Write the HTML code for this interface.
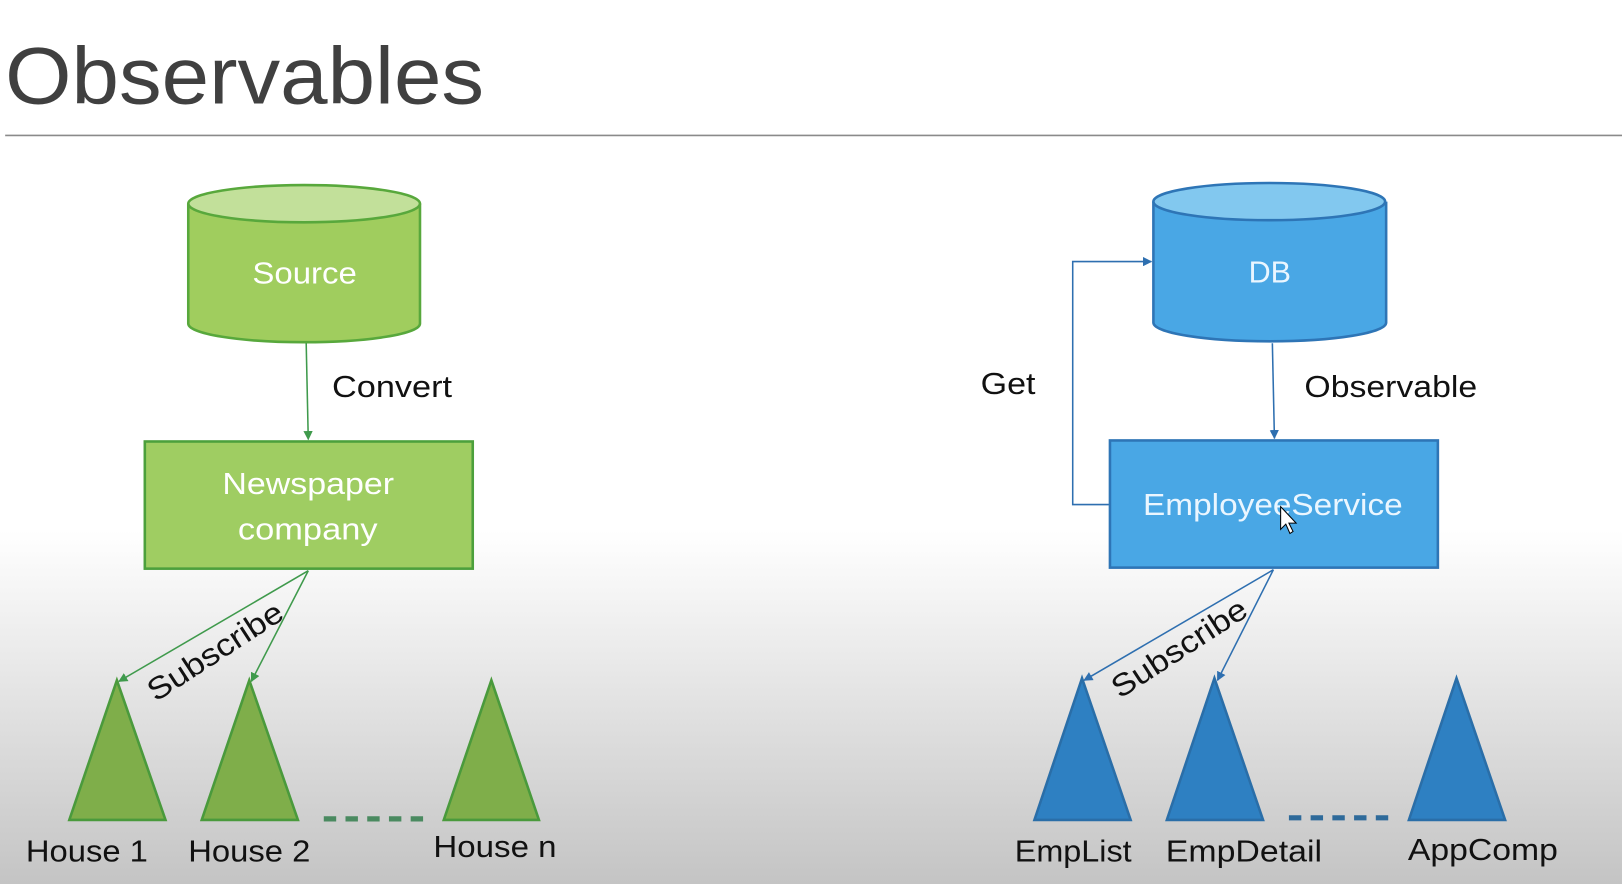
<!DOCTYPE html>
<html><head><meta charset="utf-8"><style>
html,body{margin:0;padding:0;width:1622px;height:884px;overflow:hidden;background:#fff}
svg{display:block}
text{font-family:"Liberation Sans",sans-serif}
</style></head><body>
<svg width="1622" height="884" viewBox="0 0 1568 855" preserveAspectRatio="none" xmlns="http://www.w3.org/2000/svg">
<defs>
<linearGradient id="bg" x1="0" y1="0" x2="0" y2="1">
<stop offset="0" stop-color="#ffffff"/>
<stop offset="0.6" stop-color="#ffffff"/>
<stop offset="1" stop-color="#c4c4c4"/>
</linearGradient>
<marker id="ag" viewBox="0 0 10 10" refX="9" refY="5" markerWidth="6" markerHeight="6" orient="auto"><path d="M0,0L10,5L0,10z" fill="#3f9a4c"/></marker>
<marker id="ab" viewBox="0 0 10 10" refX="9" refY="5" markerWidth="6" markerHeight="6" orient="auto"><path d="M0,0L10,5L0,10z" fill="#2e6fb0"/></marker>
</defs>
<rect width="1568" height="855" fill="url(#bg)"/>
<text x="5" y="100" font-size="78" fill="#404040" textLength="463" lengthAdjust="spacingAndGlyphs">Observables</text>
<line x1="5" y1="131" x2="1568" y2="131" stroke="#8a8a8a" stroke-width="1.5"/>

<path d="M182,197 L182,313 A112,18 0 0 0 406,313 L406,197" fill="#a0cd5e" stroke="#58a83c" stroke-width="2.5"/>
<ellipse cx="294" cy="197" rx="112" ry="18" fill="#c2e09a" stroke="#58a83c" stroke-width="2.5"/>
<text x="244" y="274" font-size="30" fill="#fff" textLength="101" lengthAdjust="spacingAndGlyphs">Source</text>
<line x1="296" y1="332" x2="298" y2="425" stroke="#3f9a4c" stroke-width="1.5" marker-end="url(#ag)"/>
<text x="321" y="384" font-size="30" fill="#111" textLength="116" lengthAdjust="spacingAndGlyphs">Convert</text>
<rect x="140" y="427" width="317" height="123" fill="#9fcd62" stroke="#4ca03c" stroke-width="2.5"/>
<text x="215" y="478" font-size="30" fill="#fff" textLength="166" lengthAdjust="spacingAndGlyphs">Newspaper</text>
<text x="230" y="522" font-size="30" fill="#fff" textLength="135" lengthAdjust="spacingAndGlyphs">company</text>
<line x1="298" y1="552" x2="115" y2="659" stroke="#3f9a4c" stroke-width="1.5" marker-end="url(#ag)"/>
<line x1="298" y1="552" x2="243" y2="659" stroke="#3f9a4c" stroke-width="1.5" marker-end="url(#ag)"/>
<text x="208" y="640" font-size="30" fill="#111" text-anchor="middle" textLength="150" lengthAdjust="spacingAndGlyphs" transform="rotate(-33 208 630)">Subscribe</text>
<g fill="#7fae4a" stroke="#4a9a3c" stroke-width="2.5">
<polygon points="113,658 67,793 160,793"/>
<polygon points="241,658 195,793 288,793"/>
<polygon points="475,658 429,793 521,793"/>
</g>
<line x1="313" y1="792" x2="413" y2="792" stroke="#4a8a60" stroke-width="5" stroke-dasharray="12,9"/>
<g font-size="30" fill="#111">
<text x="25" y="833" textLength="118" lengthAdjust="spacingAndGlyphs">House 1</text>
<text x="182" y="833" textLength="118" lengthAdjust="spacingAndGlyphs">House 2</text>
<text x="419" y="829" textLength="119" lengthAdjust="spacingAndGlyphs">House n</text>
</g>

<path d="M1115,195 L1115,312 A112,18 0 0 0 1340,312 L1340,195" fill="#49a7e5" stroke="#2e75b6" stroke-width="2.5"/>
<ellipse cx="1227" cy="195" rx="112" ry="18" fill="#82c8ef" stroke="#2e75b6" stroke-width="2.5"/>
<text x="1207" y="273" font-size="30" fill="#eaf6ff" textLength="41" lengthAdjust="spacingAndGlyphs">DB</text>
<line x1="1230" y1="332" x2="1232" y2="424" stroke="#2e6fb0" stroke-width="1.5" marker-end="url(#ab)"/>
<text x="1261" y="384" font-size="30" fill="#111" textLength="167" lengthAdjust="spacingAndGlyphs">Observable</text>
<polyline points="1072,488 1037,488 1037,253 1113,253" fill="none" stroke="#2e6fb0" stroke-width="1.5" marker-end="url(#ab)"/>
<text x="948" y="381" font-size="30" fill="#111" textLength="53" lengthAdjust="spacingAndGlyphs">Get</text>
<rect x="1073" y="426" width="317" height="123" fill="#49a7e5" stroke="#2e75b6" stroke-width="2.5"/>
<text x="1105" y="498" font-size="30" fill="#eaf6ff" textLength="251" lengthAdjust="spacingAndGlyphs">EmployeeService</text>
<polygon points="1238,490 1238,512 1243,507 1247,516 1250,514 1246,506 1253,506" fill="#fff" stroke="#000" stroke-width="1"/>
<line x1="1231" y1="551" x2="1048" y2="658" stroke="#2e6fb0" stroke-width="1.5" marker-end="url(#ab)"/>
<line x1="1231" y1="551" x2="1177" y2="658" stroke="#2e6fb0" stroke-width="1.5" marker-end="url(#ab)"/>
<text x="1140" y="637" font-size="30" fill="#111" text-anchor="middle" textLength="150" lengthAdjust="spacingAndGlyphs" transform="rotate(-33 1140 627)">Subscribe</text>
<g fill="#2e80c2" stroke="#2a6ea8" stroke-width="2.5">
<polygon points="1046,656 1000,793 1093,793"/>
<polygon points="1174,656 1128,793 1221,793"/>
<polygon points="1408,656 1362,793 1455,793"/>
</g>
<line x1="1246" y1="791" x2="1346" y2="791" stroke="#2e6a9a" stroke-width="5" stroke-dasharray="12,9"/>
<g font-size="30" fill="#111">
<text x="981" y="833" textLength="113" lengthAdjust="spacingAndGlyphs">EmpList</text>
<text x="1127" y="833" textLength="151" lengthAdjust="spacingAndGlyphs">EmpDetail</text>
<text x="1361" y="832" textLength="145" lengthAdjust="spacingAndGlyphs">AppComp</text>
</g>
</svg>
</body></html>
